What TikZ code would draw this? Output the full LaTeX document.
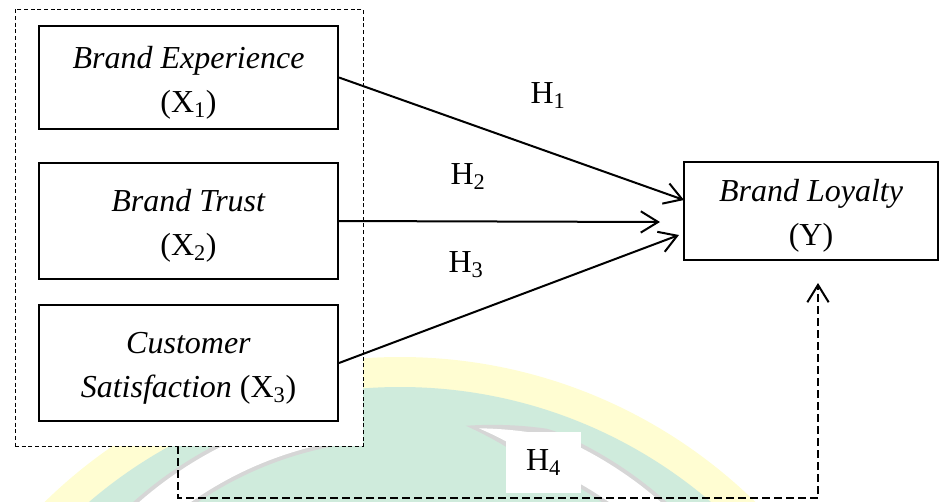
\documentclass[tikz,border=0pt]{standalone}
\usepackage{fontspec}
\setmainfont{Liberation Serif}
\usetikzlibrary{arrows.meta}

\definecolor{wmyellow}{HTML}{FFFDD2}
\definecolor{wmgreen}{HTML}{CFEBDC}
\definecolor{wmgray}{HTML}{D6D6D6}

\newcommand{\firstline}{\rule{0pt}{24pt}}

\tikzset{
  varbox/.style={draw, line width=1.5pt, fill=white, minimum width=224.25pt,
    minimum height=87pt, align=center, font=\fontsize{24}{33}\selectfont},
  groupbox/.style={draw, line width=0.75pt, fill=white, dash pattern=on 3pt off 2pt,
    minimum width=261pt, minimum height=327.75pt},
  hlabel/.style={font=\fontsize{24}{28}\selectfont, inner sep=0pt},
  link/.style={line width=1.5pt, ->},
  hpath/.style={line width=1.5pt, dash pattern=on 6pt off 3pt, ->}
}

\begin{document}
\begin{tikzpicture}[x=0.75pt, y=-0.75pt, >={Straight Barb[length=13pt,width=16pt]}]

\useasboundingbox (0,0) rectangle (947,501);

% watermark
\begin{scope}
\clip (0,0) rectangle (947,501);
\fill[wmyellow] (400,865) circle[radius=508];
\fill[wmgreen] (400,865) circle[radius=478];
\begin{scope}[shift={(400,800)}, y=0.75pt]
	\fill[wmgray] plot[domain=80:35, samples=40] (\x:{380+20*min(1,(80-\x)/12)})
		-- plot[domain=35:80, samples=40] (\x:{380-20*min(1,(80-\x)/12)}) -- cycle;
	\fill[white] plot[domain=78:35, samples=40] (\x:{380+16*min(1,(78-\x)/12)})
		-- plot[domain=35:78, samples=40] (\x:{380-16*min(1,(78-\x)/12)}) -- cycle;
	\draw[wmgray, line width=30pt] (100:380) arc[start angle=100, end angle=150, radius=380];
	\draw[white, line width=24pt] (100:380) arc[start angle=100, end angle=150, radius=380];
\end{scope}
\end{scope}

% variables
\node[groupbox] (grp) at (189,227.5) {};
\node[varbox, minimum height=77.25pt] (x1) at (188.5,77.5) {\firstline\textit{Brand Experience}\\(X\textsubscript{1})};
\node[varbox] (x2) at (188.5,221) {\firstline\textit{Brand Trust}\\(X\textsubscript{2})};
\node[varbox] (x3) at (188.5,363) {\firstline\textit{Customer}\\\textit{Satisfaction} (X\textsubscript{3})};
\node[varbox, line width=1pt, minimum width=190.5pt, minimum height=73.5pt] (loy) at (811,211) {\firstline\textit{Brand Loyalty}\\(Y)};

% hypotheses
\node[hlabel] (h1) at (548,96) {H\textsubscript{1}};
\node[hlabel] (h2) at (468,177) {H\textsubscript{2}};
\node[hlabel] (h3) at (466,265) {H\textsubscript{3}};
\node[hlabel, fill=white, minimum width=56.25pt, minimum height=45.75pt] (h4) at (543.5,462.5) {H\textsubscript{4}};

\coordinate (e1) at (684,200);
\coordinate (e2) at (660,222);
\coordinate (e3) at (679,235);
\coordinate (h4a) at (178,446);
\coordinate (h4b) at (818,283);

\draw[link] (x1.east) -- (e1);
\draw[link] (x2.east) -- (e2);
\draw[link] (x3.east) -- (e3);
\draw[hpath] (h4a) -- ++(0,52) -| (h4b);

\end{tikzpicture}
\end{document}
